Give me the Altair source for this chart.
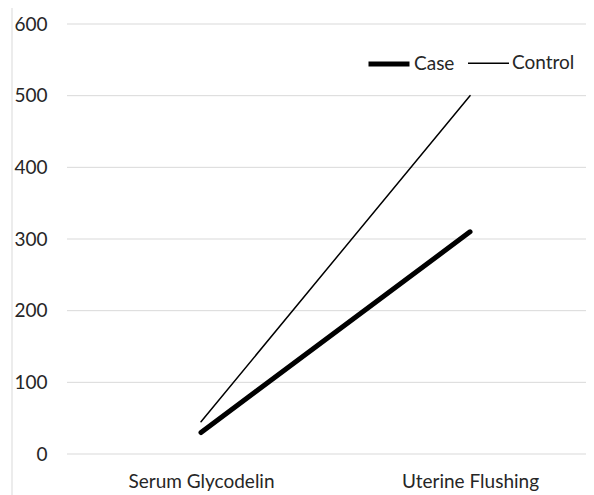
import altair as alt
import pandas as pd

categories = ["Serum Glycodelin", "Uterine Flushing"]
series = ["Case", "Control"]
case_values = [30, 310]
control_values = [45, 500]
y_ticks = [0, 100, 200, 300, 400, 500, 600]

rows = []
for c, v in zip(categories, case_values):
    rows.append({"category": c, "group": "Case", "value": v})
for c, v in zip(categories, control_values):
    rows.append({"category": c, "group": "Control", "value": v})
df = pd.DataFrame(rows)
grid_df = pd.DataFrame({"value": y_ticks})

W, H = 519, 430
FONT = "Lato"
FS = 19
TXT = "#262626"
GRID = "#d9d9d9"

yscale = alt.Scale(domain=[0, 600], nice=False)
yaxis = alt.Axis(title=None, values=y_ticks, ticks=False, domain=False,
                 labelPadding=20, labelFontSize=FS, labelFont=FONT,
                 labelColor=TXT, grid=False)

grid = alt.Chart(grid_df).mark_rule(color=GRID, strokeWidth=1).encode(
    y=alt.Y("value:Q", scale=yscale, axis=yaxis),
    x=alt.value(0), x2=alt.value(W),
)

lines = alt.Chart(df).mark_line(color="black", strokeCap="round").encode(
    x=alt.X("category:N", sort=categories,
            scale=alt.Scale(type="point", range=[134, 403], padding=0),
            axis=alt.Axis(title=None, labelAngle=0, ticks=False, domain=False,
                          labelPadding=18,
                          labelFontSize=FS, labelFont=FONT, labelColor=TXT,
                          grid=False)),
    y=alt.Y("value:Q", scale=yscale, axis=yaxis),
    strokeWidth=alt.StrokeWidth("group:O", sort=series,
                                scale=alt.Scale(domain=series, range=[5, 1.5]),
                                legend=alt.Legend(title=None, orient="none",
                                                  direction="horizontal",
                                                  legendX=299, legendY=17,
                                                  symbolType="stroke",
                                                  symbolSize=1681,
                                                  symbolStrokeColor="black",
                                                  labelFontSize=FS, labelFont=FONT,
                                                  labelColor=TXT,
                                                  labelOffset=2,
                                                  columnPadding=10)),
    detail="group:N",
)

frame = alt.Chart(pd.DataFrame({"f": [0]})).mark_rule(color=GRID, strokeWidth=1).encode(
    x=alt.value(-55), y=alt.value(-16), y2=alt.value(H + 41)
)

chart = alt.layer(frame, grid, lines).resolve_scale(y="shared").properties(
    width=W, height=H,
    autosize=alt.AutoSizeParams(type="none"),
    padding={"left": 59, "top": 16, "right": 0, "bottom": 41},
).configure_view(stroke=None)

chart.save("out.html", embed_options={"renderer": "svg", "actions": False})
